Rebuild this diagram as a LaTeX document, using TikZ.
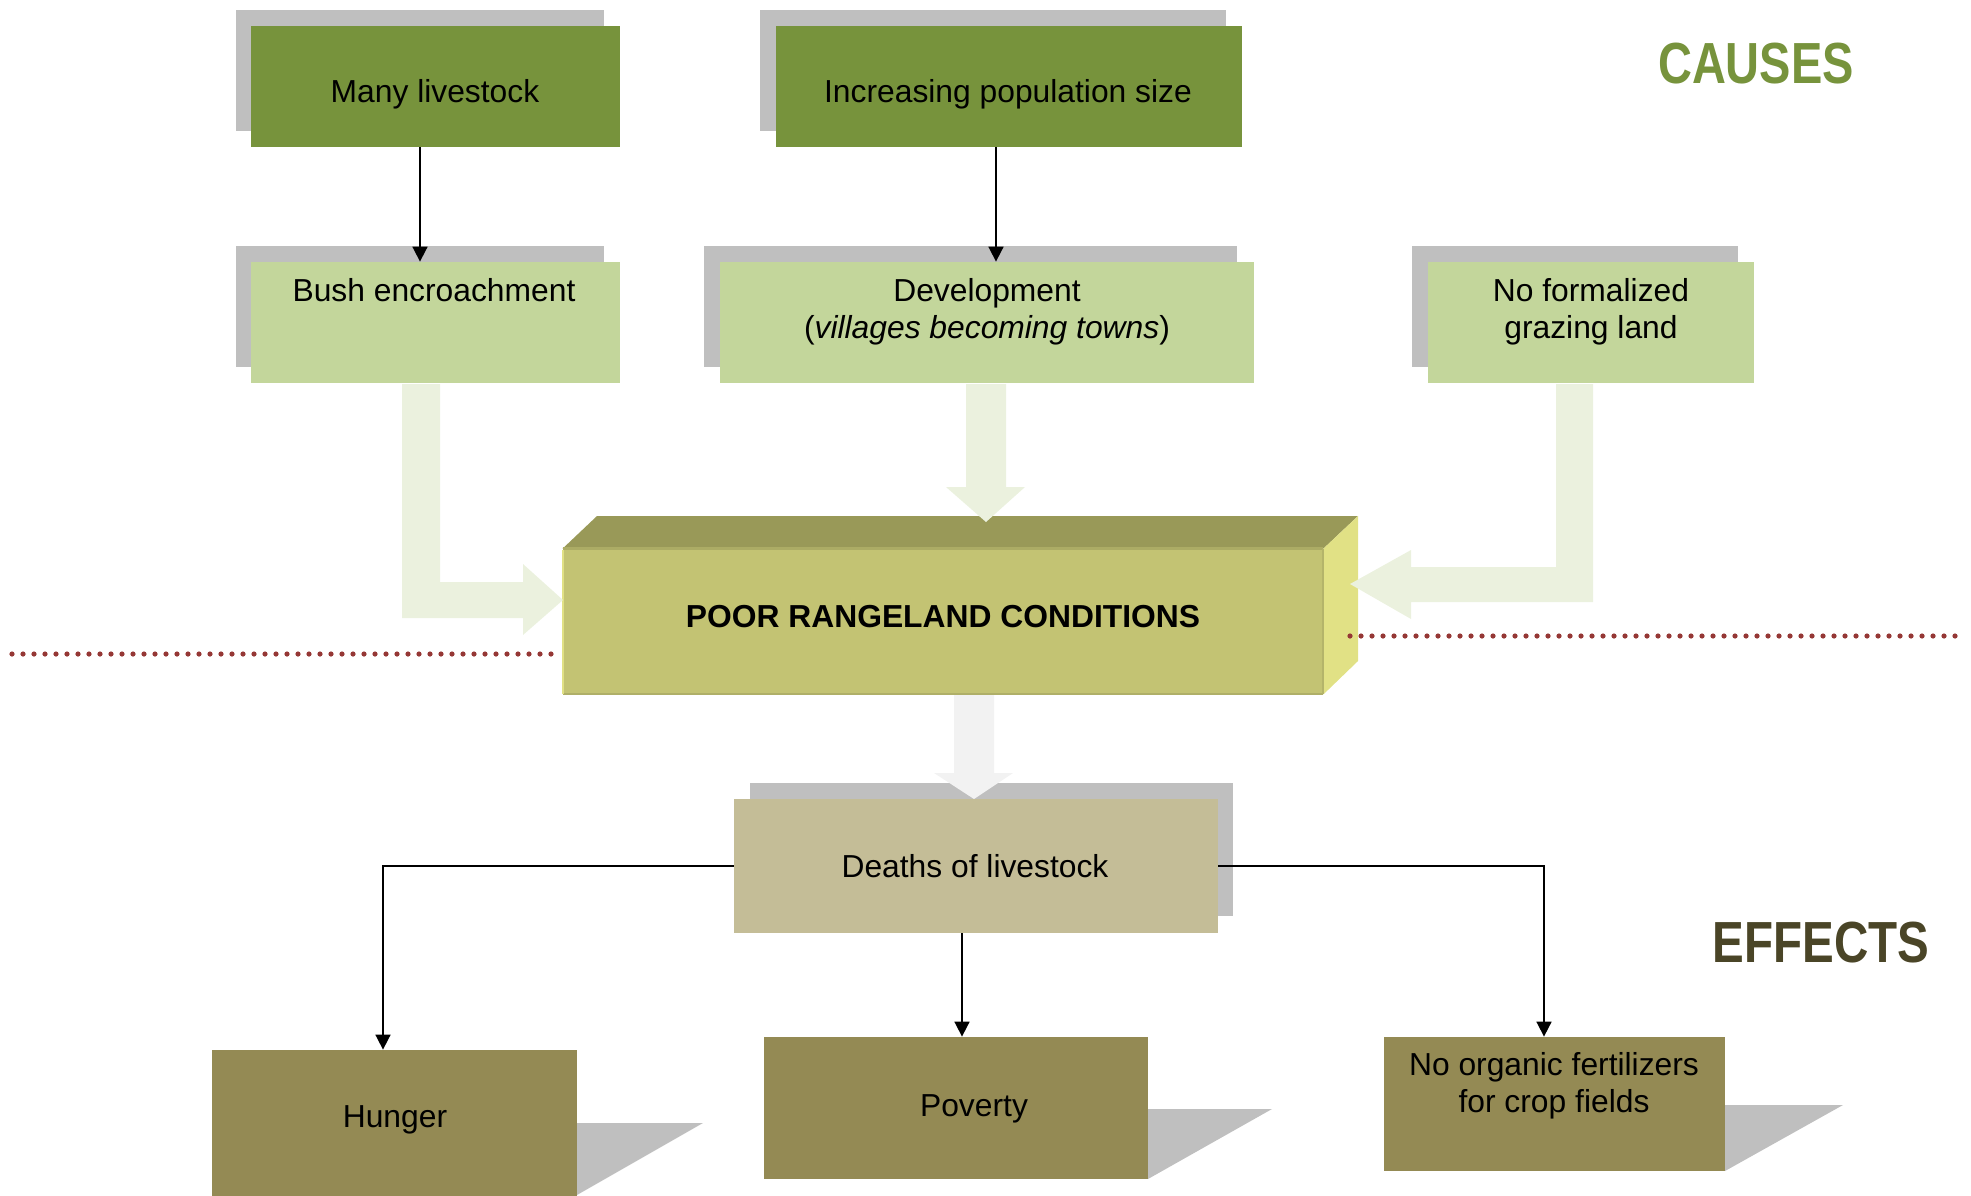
\documentclass[tikz,border=0pt]{standalone}
\usepackage{fontspec}
\setmainfont{Liberation Sans}
\usepackage{graphicx}
\usetikzlibrary{arrows.meta,fit}

\definecolor{shadowgray}{HTML}{BFBFBF}
\definecolor{causedark}{HTML}{77933C}
\definecolor{causelight}{HTML}{C3D69B}
\definecolor{flowlight}{HTML}{EBF1DE}
\definecolor{flowgray}{HTML}{F2F2F2}
\definecolor{cubefront}{HTML}{C3C373}
\definecolor{cubetop}{HTML}{999958}
\definecolor{cuberight}{HTML}{E1E185}
\definecolor{deathtan}{HTML}{C4BD97}
\definecolor{effecttan}{HTML}{948A54}
\definecolor{dotred}{HTML}{953735}
\definecolor{effecthead}{HTML}{4A4527}

\begin{document}
\begin{tikzpicture}[
  x=0.5pt, y=-0.5pt,
  box/.style={inner sep=0pt, draw=none},
  lbl/.style={font=\fontsize{15.9}{18.5}\selectfont, inner sep=0pt, align=center, anchor=base},
  boldlbl/.style={lbl, font=\bfseries\fontsize{15.9}{18.5}\selectfont},
  headline/.style={font=\bfseries\fontsize{29}{29}\selectfont, inner sep=0pt, anchor=base},
  conn/.style={line width=0.85pt, -{Triangle[length=7.5pt,width=7.5pt]}},
  dots/.style={dotred, line width=2.6pt, line cap=round, dash pattern=on 0pt off 5.5pt},
  shadow/.style={fill=shadowgray}
]
\useasboundingbox (0,0) rectangle (1971,1195);

% ---------- headings ----------
\node[headline, text=causedark] (causes) at (1756,83) {\scalebox{0.81}[1]{CAUSES}};
\node[headline, text=effecthead] (effects) at (1821,962) {\scalebox{0.82}[1]{EFFECTS}};

% ---------- causes: top row ----------
\fill[shadow] (236,10) rectangle (604,131);
\node[box, fill=causedark, fit={(251,26)(620,147)}] (many) {};
\fill[shadow] (760,10) rectangle (1226,131);
\node[box, fill=causedark, fit={(776,26)(1242,147)}] (inc) {};

% ---------- causes: second row ----------
\fill[shadow] (236,246) rectangle (604,367);
\node[box, fill=causelight, fit={(251,262)(620,383)}] (bush) {};
\fill[shadow] (704,246) rectangle (1237,367);
\node[box, fill=causelight, fit={(720,262)(1254,383)}] (dev) {};
\fill[shadow] (1412,246) rectangle (1738,367);
\node[box, fill=causelight, fit={(1428,262)(1754,383)}] (graze) {};

% thin arrows between the cause boxes
\draw[conn] ([xshift=-7.75pt]many.south) -- ([xshift=-7.75pt]many.south |- bush.north);
\draw[conn] ([xshift=-6.5pt]inc.south) -- ([xshift=-6.5pt]inc.south |- dev.north);

% ---------- central block ----------
\node[box, fill=cubefront, fit={(563,549)(1323,694)}] (poor) {};
\fill[cubetop] (poor.north west) -- (597,516) -- (1358,516) -- (poor.north east) -- cycle;
\fill[cuberight] (poor.north east) -- (1358,516) -- (1358,661) -- (poor.south east) -- cycle;
\draw[line width=1.2pt, cubefront!88!black] (poor.north west) -- (poor.north east);
\draw[line width=1pt, cubefront!90!black] (poor.south west) -- (poor.south east);
\draw[line width=1pt, cuberight] ([yshift=-0.6pt]poor.north west) -- (poor.south west);
\draw[line width=1pt, cubefront!92!black] (poor.north east) -- (poor.south east);

% broad arrows feeding the central block
\fill[flowlight] (402,384) -- (440,384) -- (440,582) -- (523,582) -- (523,564)
  -- (563,600) -- (523,635) -- (523,618) -- (402,618) -- cycle;
\fill[flowlight] (966,384) -- (1006,384) -- (1006,487) -- (1025,487)
  -- (986,522) -- (946,487) -- (966,487) -- cycle;
\fill[flowlight] (1556,384) -- (1593,384) -- (1593,602) -- (1411,602) -- (1411,619)
  -- (1350,584) -- (1411,550) -- (1411,567) -- (1556,567) -- cycle;

% dividing line between causes and effects
\draw[dots] (12,654) -- (560,654);
\draw[dots] (1350,636) -- (1960,636);

% ---------- effects ----------
\fill[shadow] (750,783) rectangle (1233,916);
\node[box, fill=deathtan, fit={(734,799)(1218,933)}] (deaths) {};
\fill[flowgray] (954,695) -- (994,695) -- (994,773) -- (1013,773)
  -- (974,799) -- (934,773) -- (954,773) -- cycle;

\fill[shadow] (577,1123) -- (703,1123) -- (577,1195) -- cycle;
\node[box, fill=effecttan, fit={(212,1050)(577,1200)}] (hunger) {};
\fill[shadow] (1148,1109) -- (1272,1109) -- (1148,1179) -- cycle;
\node[box, fill=effecttan, fit={(764,1037)(1148,1179)}] (poverty) {};
\fill[shadow] (1725,1105) -- (1843,1105) -- (1725,1171) -- cycle;
\node[box, fill=effecttan, fit={(1384,1037)(1725,1171)}] (fert) {};

\draw[conn] (deaths.west) -| ([xshift=-5.75pt]hunger.north);
\draw[conn] ([xshift=-7pt]deaths.south) -- ([xshift=-7pt]deaths.south |- poverty.north);
\draw[conn] (deaths.east) -| ([xshift=-5.25pt]fert.north);

% ---------- box texts (base anchor = baseline of the last line) ----------
\node[lbl] (many-t) at (435,102) {Many livestock};
\node[lbl] (inc-t) at (1008,102) {Increasing population size};
\node[lbl] (bush-t) at (434,301) {Bush encroachment};
\node[lbl] (dev-t) at (987,338) {Development\\(\textit{villages becoming towns})};
\node[lbl] (graze-t) at (1591,338) {No formalized\\grazing land};
\node[boldlbl] (poor-t) at (943,627) {POOR RANGELAND CONDITIONS};
\node[lbl] (deaths-t) at (975,877) {Deaths of livestock};
\node[lbl] (hunger-t) at (395,1127) {Hunger};
\node[lbl] (poverty-t) at (974,1116) {Poverty};
\node[lbl] (fert-t) at (1554,1112) {No organic fertilizers\\for crop fields};
\end{tikzpicture}
\end{document}
